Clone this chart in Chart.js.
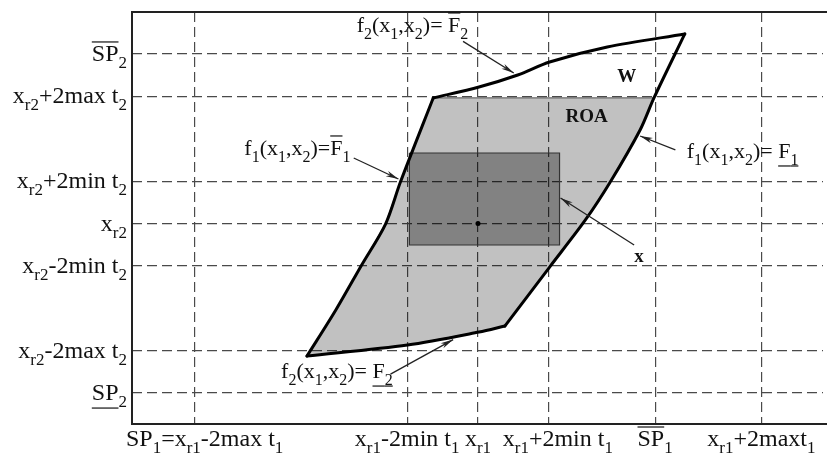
<!DOCTYPE html>
<html>
<head>
<meta charset="utf-8">
<script src="https://cdn.jsdelivr.net/npm/chart.js@4.4.0/dist/chart.umd.min.js"></script>
<style>
  html, body { margin: 0; padding: 0; background: #fff; overflow: hidden; }
  #wrap { width: 827px; height: 456px; }
</style>
</head>
<body>
<div id="wrap"><canvas id="roaChart"></canvas></div>
<script>
'use strict'

// grid positions (axis units) and the labels under / beside them
// markup: |s{..} subscript, |o{..} overline, |u{..} underline
var xTicks = [-4, -1, 0, 1, 2.5, 4];
var xTickLabels = ['SP|s{1}=x|s{r1}-2max t|s{1}', 'x|s{r1}-2min t|s{1}', 'x|s{r1}',
                   'x|s{r1}+2min t|s{1}', '|o{SP}|s{1}', 'x|s{r1}+2maxt|s{1}'];
var yTicks = [4, 3, 1, 0, -1, -3, -4];
var yTickLabels = ['|o{SP}|s{2}', 'x|s{r2}+2max t|s{2}', 'x|s{r2}+2min t|s{2}', 'x|s{r2}',
                   'x|s{r2}-2min t|s{2}', 'x|s{r2}-2max t|s{2}', '|u{SP}|s{2}'];

// boundary of W, one array pair per edge
var topX = [-0.632, 0.014, 0.561, 1.011, 1.825, 2.919];
var topY = [2.962, 3.221, 3.504, 3.811, 4.165, 4.472];
var rightX = [2.919, 2.484, 2.288, 1.867, 1.516, 1.011, 0.379];
var rightY = [4.472, 2.962, 2.206, 0.979, 0.083, -1.027, -2.419];
var bottomX = [0.379, 0.014, -0.996, -2.414];
var bottomY = [-2.419, -2.560, -2.867, -3.127];
var leftX = [-2.414, -2.007, -1.642, -1.305, -1.095, -0.632];
var leftY = [-3.127, -2.041, -0.979, -0.012, 0.979, 2.962];

// ROA = W cut at x_r2 + 2max t_2
var roaX = [-0.632, 2.484, 2.288, 1.867, 1.516, 1.011, 0.379, 0.014, -0.996, -2.414, -2.007, -1.642, -1.305, -1.095, -0.632];
var roaY = [2.962, 2.962, 2.206, 0.979, 0.083, -1.027, -2.419, -2.560, -2.867, -3.127, -2.041, -0.979, -0.012, 0.979, 2.962];

// inner box x
var boxX = [-0.968, 1.151, 1.151, -0.968, -0.968];
var boxY = [1.664, 1.664, -0.507, -0.507, 1.664];

var refX = [0];
var refY = [0];

// annotations
var noteText = ['f|s{2}(x|s{1},x|s{2})= |o{F}|s{2}', 'f|s{1}(x|s{1},x|s{2})=|o{F}|s{1}',
                'f|s{1}(x|s{1},x|s{2})= |u{F}|su{1}', 'f|s{2}(x|s{1},x|s{2})= |u{F}|su{2}'];
var noteX = [-1.712, -3.298, 2.947, -2.779];
var noteY = [4.519, 1.617, 1.546, -3.646];

var tagText = ['W', 'ROA', 'x'];
var tagX = [1.965, 1.235, 2.204];
var tagY = [3.339, 2.395, -0.91];

// arrows: tail -> head
var arrowFromX = [-0.211, -1.754, 2.786, 2.204, -1.235];
var arrowFromY = [4.296, 1.546, 1.735, -0.507, -3.552];
var arrowToX = [0.505, -1.123, 2.288, 1.165, -0.351];
var arrowToY = [3.551, 1.050, 2.065, 0.602, -2.738];

function pts(xs, ys) {
  return xs.map(function(x, i) { return {x: x, y: ys[i]}; });
}

var tickFonts = ['24px "Liberation Serif"', '17px "Liberation Serif"'];
var noteFonts = ['22px "Liberation Serif"', '16px "Liberation Serif"'];

function parseRich(str) {
  var parts = [];
  var re = /\|([sou]+)\{([^}]*)\}/g;
  var last = 0, m;
  while ((m = re.exec(str)) !== null) {
    if (m.index > last) parts.push({text: str.slice(last, m.index)});
    parts.push({text: m[2], sub: m[1].indexOf('s') >= 0, over: m[1].indexOf('o') >= 0, under: m[1].indexOf('u') >= 0});
    last = re.lastIndex;
  }
  if (last < str.length) parts.push({text: str.slice(last)});
  return parts;
}

function drawRich(ctx, str, x, y, align, fonts) {
  var parts = parseRich(str);
  var w = 0;
  parts.forEach(function(p) {
    ctx.font = p.sub ? fonts[1] : fonts[0];
    p.w = ctx.measureText(p.text).width;
    w += p.w;
  });
  var cx = align === 'right' ? x - w : (align === 'center' ? x - w / 2 : x);
  ctx.textAlign = 'left';
  ctx.textBaseline = 'alphabetic';
  ctx.fillStyle = '#111';
  ctx.strokeStyle = '#111';
  ctx.lineWidth = 1.2;
  parts.forEach(function(p) {
    ctx.font = p.sub ? fonts[1] : fonts[0];
    ctx.fillText(p.text, cx, p.sub ? y + 7 : y);
    if (p.over) {
      ctx.beginPath(); ctx.moveTo(cx, y - 19); ctx.lineTo(cx + p.w, y - 19); ctx.stroke();
    }
    if (p.under) {
      ctx.beginPath(); ctx.moveTo(cx, y + 8); ctx.lineTo(cx + p.w, y + 8); ctx.stroke();
    }
    cx += p.w;
  });
}

var xLabelNudge = [10, 0, 0, 9, 0, 0];

var extras = {
  id: 'extras',
  afterDraw: function(chart) {
    var ctx = chart.ctx;
    var a = chart.chartArea;
    var xs = chart.scales.x, ys = chart.scales.y;
    ctx.save();

    // frame (no right edge)
    ctx.strokeStyle = '#222';
    ctx.lineWidth = 2;
    ctx.beginPath();
    ctx.moveTo(chart.width, a.top); ctx.lineTo(a.left, a.top);
    ctx.lineTo(a.left, a.bottom); ctx.lineTo(chart.width, a.bottom);
    ctx.stroke();

    // tick labels
    xTicks.forEach(function(v, i) {
      drawRich(ctx, xTickLabels[i], xs.getPixelForValue(v) + xLabelNudge[i], a.bottom + 22, 'center', tickFonts);
    });
    yTicks.forEach(function(v, i) {
      drawRich(ctx, yTickLabels[i], a.left - 5, ys.getPixelForValue(v) + 7, 'right', tickFonts);
    });

    // arrows
    ctx.strokeStyle = '#222';
    ctx.fillStyle = '#222';
    ctx.lineWidth = 1.3;
    arrowFromX.forEach(function(v, i) {
      var x1 = xs.getPixelForValue(v), y1 = ys.getPixelForValue(arrowFromY[i]);
      var x2 = xs.getPixelForValue(arrowToX[i]), y2 = ys.getPixelForValue(arrowToY[i]);
      var ang = Math.atan2(y2 - y1, x2 - x1);
      ctx.beginPath(); ctx.moveTo(x1, y1); ctx.lineTo(x2, y2); ctx.stroke();
      ctx.beginPath();
      ctx.moveTo(x2 - 13 * Math.cos(ang - 0.22), y2 - 13 * Math.sin(ang - 0.22));
      ctx.lineTo(x2, y2);
      ctx.lineTo(x2 - 13 * Math.cos(ang + 0.22), y2 - 13 * Math.sin(ang + 0.22));
      ctx.lineTo(x2 - 9 * Math.cos(ang), y2 - 9 * Math.sin(ang));
      ctx.closePath();
      ctx.fill();
    });

    // curve labels
    noteText.forEach(function(t, i) {
      drawRich(ctx, t, xs.getPixelForValue(noteX[i]), ys.getPixelForValue(noteY[i]), 'left', noteFonts);
    });

    // region tags
    ctx.font = 'bold 19px "Liberation Serif"';
    ctx.fillStyle = '#111';
    ctx.textAlign = 'left';
    tagText.forEach(function(t, i) {
      ctx.fillText(t, xs.getPixelForValue(tagX[i]), ys.getPixelForValue(tagY[i]));
    });
    ctx.restore();
  }
};

function edge(xs, ys) {
  return {
    data: pts(xs, ys), showLine: true, fill: false, tension: 0.3,
    borderColor: '#000', borderWidth: 3, pointRadius: 0,
    borderCapStyle: 'round', order: 1
  };
}

var chart = new Chart(document.getElementById('roaChart'), {
  type: 'scatter',
  data: {
    datasets: [
      {
        data: pts(refX, refY),
        pointRadius: 2.5, pointBackgroundColor: '#000', pointBorderWidth: 0,
        order: 0
      },
      edge(topX, topY),
      edge(rightX, rightY),
      edge(bottomX, bottomY),
      edge(leftX, leftY),
      {
        data: pts(boxX, boxY), showLine: true, fill: 'shape',
        backgroundColor: 'rgba(0,0,0,0.33)', borderColor: '#333', borderWidth: 1.2,
        pointRadius: 0, order: 2
      },
      {
        data: pts(roaX, roaY), showLine: true, fill: 'shape',
        backgroundColor: 'rgba(0,0,0,0.245)', borderColor: '#666', borderWidth: 1.2,
        pointRadius: 0, order: 3
      }
    ]
  },
  options: {
    responsive: true,
    maintainAspectRatio: false,
    animation: false,
    events: [],
    layout: { padding: { left: 132, top: 12, right: 0, bottom: 32 } },
    plugins: { legend: { display: false }, tooltip: { enabled: false } },
    scales: {
      x: {
        type: 'linear', min: -4.884, max: 4.87,
        afterBuildTicks: function(s) { s.ticks = xTicks.map(function(v) { return {value: v}; }); },
        afterFit: function(s) { s.height = 0; },
        ticks: { display: false },
        grid: { color: '#4a4a4a', lineWidth: 1.2, drawTicks: false },
        border: { display: false, dash: [10, 5] }
      },
      y: {
        type: 'linear', min: -4.73, max: 4.99,
        afterBuildTicks: function(s) { s.ticks = yTicks.map(function(v) { return {value: v}; }); },
        afterFit: function(s) { s.width = 0; },
        ticks: { display: false },
        grid: { color: '#4a4a4a', lineWidth: 1.2, drawTicks: false },
        border: { display: false, dash: [10, 5] }
      }
    }
  },
  plugins: [extras]
});
</script>
</body>
</html>
